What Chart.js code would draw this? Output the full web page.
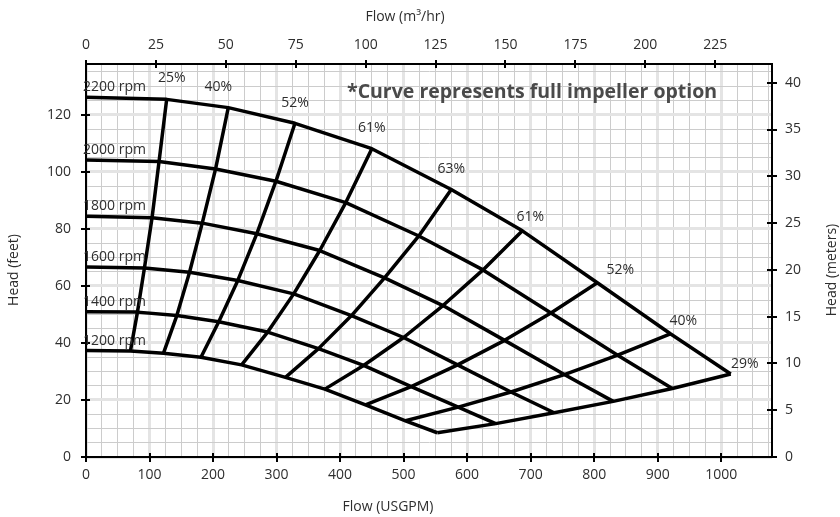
<!DOCTYPE html>
<html>
<head>
<meta charset="utf-8">
<style>
  html, body { margin: 0; padding: 0; background: #ffffff; }
  #wrap { width: 840px; height: 517px; }
</style>
<script src="https://cdn.jsdelivr.net/npm/chart.js@4.4.1/dist/chart.umd.min.js"></script>
</head>
<body>
<div id="wrap"><canvas id="c" width="840" height="517"></canvas></div>
<script>
// ---------------- DATA ----------------
// Speed curves: flow (USGPM) and head (feet); points are start, then crossings
// with the efficiency lines 25%, 40%, 52%, 61%, 63%, 61%, 52%, 40%, 29%.
const speedLabels = ['2200 rpm', '2000 rpm', '1800 rpm', '1600 rpm', '1400 rpm', '1200 rpm'];

const flow2200 = [0, 127, 224, 329, 450, 575, 687, 805, 920, 1015];
const head2200 = [126.1, 125.4, 122.5, 117.0, 108.1, 93.8, 79.3, 61.1, 43.2, 29.1];

const flow2000 = [0, 115, 204, 299, 409, 524, 625, 732, 837, 923];
const head2000 = [104.1, 103.6, 101.0, 96.7, 89.2, 77.5, 65.6, 50.5, 35.7, 24.0];

const flow1800 = [0, 104, 183, 269, 368, 470, 562, 659, 753, 830];
const head1800 = [84.4, 83.9, 82.0, 78.3, 72.4, 62.8, 53.1, 40.9, 28.9, 19.5];

const flow1600 = [0, 92, 163, 239, 327, 418, 500, 585, 669, 737];
const head1600 = [66.6, 66.3, 64.8, 61.9, 57.2, 49.6, 41.9, 32.3, 22.8, 15.5];

const flow1400 = [0, 81, 143, 209, 286, 366, 437, 512, 586, 645];
const head1400 = [50.9, 50.8, 49.6, 47.4, 43.8, 38.0, 32.1, 24.7, 17.5, 11.7];

const flow1200 = [0, 70, 122, 181, 245, 314, 376, 440, 503, 553];
const head1200 = [37.3, 37.2, 36.4, 35.0, 32.3, 27.9, 23.8, 18.3, 12.7, 8.5];

const effLabels = ['25%', '40%', '52%', '61%', '63%', '61%', '52%', '40%', '29%'];

const gpmTickLabels = [0, 100, 200, 300, 400, 500, 600, 700, 800, 900, 1000];
const m3hTickLabels = [0, 25, 50, 75, 100, 125, 150, 175, 200, 225];
const feetTickLabels = [0, 20, 40, 60, 80, 100, 120];
const meterTickLabels = [0, 5, 10, 15, 20, 25, 30, 35, 40];

const noteText = '*Curve represents full impeller option';
const titleTop = 'Flow (m³/hr)';
const titleBottom = 'Flow (USGPM)';
const titleLeft = 'Head (feet)';
const titleRight = 'Head (meters)';

// Axis ranges and unit conversions
const GPM_MAX = 1080;
const FT_MAX = 137.8;
const M3H_PER_GPM = 0.2271247;
const M_PER_FT = 0.3048;

// ---------------- BUILD DATASETS ----------------
const speedFlows = [flow2200, flow2000, flow1800, flow1600, flow1400, flow1200];
const speedHeads = [head2200, head2000, head1800, head1600, head1400, head1200];

const datasets = [];
speedFlows.forEach((fl, s) => {
  datasets.push({
    label: speedLabels[s],
    data: fl.map((q, i) => ({ x: q, y: speedHeads[s][i] })),
  });
});
effLabels.forEach((lab, e) => {
  const idx = e + 1;
  datasets.push({
    label: lab,
    data: speedFlows.map((fl, s) => ({ x: fl[idx], y: speedHeads[s][idx] })),
  });
});
datasets.forEach(d => {
  d.borderColor = '#000000';
  d.borderWidth = 3.5;
  d.pointRadius = 0;
  d.pointHoverRadius = 0;
  d.tension = 0;
  d.fill = false;
  d.showLine = true;
  d.borderJoinStyle = 'round';
  d.borderCapStyle = 'butt';
});

// ---------------- STYLE / LAYOUT ----------------
const TEXT = '#2e2e2e';
const FONT = '"Open Sans", Lato, sans-serif';

// label offsets (px) relative to the 2200 rpm crossing of each efficiency line
const effLabelOffsets = [[5, -21], [-10, -21], [0, -20], [0, -21], [0, -20], [8, -14], [23, -13], [13, -13], [14, -10]];

const overlay = {
  id: 'overlay',
  afterDraw(chart) {
    const ctx = chart.ctx;
    const { x, y, x2, y2 } = chart.scales;
    const area = chart.chartArea;
    ctx.save();
    // crossing tick marks
    ctx.strokeStyle = '#000';
    ctx.lineWidth = 2;
    ctx.beginPath();
    gpmTickLabels.forEach(v => { const p = Math.round(x.getPixelForValue(v)); ctx.moveTo(p, area.bottom - 4); ctx.lineTo(p, area.bottom + 5); });
    m3hTickLabels.forEach(v => { const p = Math.round(x2.getPixelForValue(v)); ctx.moveTo(p, area.top - 4); ctx.lineTo(p, area.top + 4); });
    feetTickLabels.forEach(v => { const p = Math.round(y.getPixelForValue(v)); ctx.moveTo(area.left - 5, p); ctx.lineTo(area.left + 4, p); });
    meterTickLabels.forEach(v => { const p = Math.round(y2.getPixelForValue(v)); ctx.moveTo(area.right - 5, p); ctx.lineTo(area.right + 5, p); });
    ctx.stroke();

    ctx.fillStyle = TEXT;
    ctx.font = '14px ' + FONT;
    // rpm labels
    ctx.textAlign = 'left';
    ctx.textBaseline = 'middle';
    speedLabels.forEach((lab, s) => {
      const py = y.getPixelForValue(speedHeads[s][0]);
      ctx.fillText(lab, area.left - 3, py - 10);
    });
    // efficiency labels
    ctx.textAlign = 'center';
    effLabels.forEach((lab, e) => {
      const px = x.getPixelForValue(flow2200[e + 1]);
      const py = y.getPixelForValue(head2200[e + 1]);
      ctx.fillText(lab, px + effLabelOffsets[e][0], py + effLabelOffsets[e][1]);
    });
    // axis titles
    ctx.fillText(titleTop, 405, 17);
    ctx.fillText(titleBottom, 388, 507);
    ctx.save();
    ctx.translate(14, 270); ctx.rotate(-Math.PI / 2); ctx.fillText(titleLeft, 0, 0);
    ctx.restore();
    ctx.save();
    ctx.translate(832, 270); ctx.rotate(-Math.PI / 2); ctx.fillText(titleRight, 0, 0);
    ctx.restore();
    // note
    ctx.fillStyle = '#4a4a4a';
    ctx.font = 'bold 19.5px ' + FONT;
    ctx.textAlign = 'left';
    ctx.fillText(noteText, 347, 92);
    ctx.restore();
  }
};

const tickFont = { family: FONT, size: 14 };

new Chart(document.getElementById('c'), {
  type: 'scatter',
  data: { datasets },
  plugins: [overlay],
  options: {
    responsive: false,
    animation: false,
    devicePixelRatio: 1,
    layout: { padding: 0 },
    plugins: { legend: { display: false }, tooltip: { enabled: false } },
    events: [],
    scales: {
      x: {
        type: 'linear', position: 'bottom', min: 0, max: GPM_MAX,
        afterFit: s => { s.height = 60; },
        border: { color: '#000', width: 2 },
        grid: {
          drawTicks: false,
          color: c => (c.tick && c.tick.value % 100 === 0) ? '#e4e4e4' : '#cccccc',
          lineWidth: c => (c.tick && c.tick.value % 100 === 0) ? 3 : 1,
        },
        ticks: {
          stepSize: 25, autoSkip: false, includeBounds: false, maxRotation: 0, padding: 10, color: TEXT, font: tickFont,
          callback: v => (gpmTickLabels.includes(v) ? String(v) : ''),
        },
      },
      x2: {
        type: 'linear', position: 'top', min: 0, max: GPM_MAX * M3H_PER_GPM,
        afterFit: s => { s.height = 64; },
        border: { color: '#000', width: 2 },
        grid: { display: false, drawTicks: false },
        ticks: {
          stepSize: 25, autoSkip: false, includeBounds: false, maxRotation: 0, padding: 11, color: TEXT, font: tickFont,
          callback: v => (m3hTickLabels.includes(v) ? String(v) : ''),
        },
      },
      y: {
        type: 'linear', position: 'left', min: 0, max: FT_MAX,
        afterFit: s => { s.width = 86; },
        border: { color: '#000', width: 2 },
        grid: {
          drawTicks: false,
          color: c => (c.tick && c.tick.value % 20 === 0) ? '#e4e4e4' : '#cccccc',
          lineWidth: c => (c.tick && c.tick.value % 20 === 0) ? 3 : 1,
        },
        ticks: {
          stepSize: 5, autoSkip: false, includeBounds: false, padding: 15, color: TEXT, font: tickFont,
          callback: v => (feetTickLabels.includes(v) ? String(v) : ''),
        },
      },
      y2: {
        type: 'linear', position: 'right', min: 0, max: FT_MAX * M_PER_FT,
        afterFit: s => { s.width = 68; },
        border: { color: '#000', width: 2 },
        grid: { display: false, drawTicks: false },
        ticks: {
          stepSize: 5, autoSkip: false, includeBounds: false, padding: 13, color: TEXT, font: tickFont,
          callback: v => (meterTickLabels.includes(v) ? String(v) : ''),
        },
      },
    },
  },
});
</script>
</body>
</html>
